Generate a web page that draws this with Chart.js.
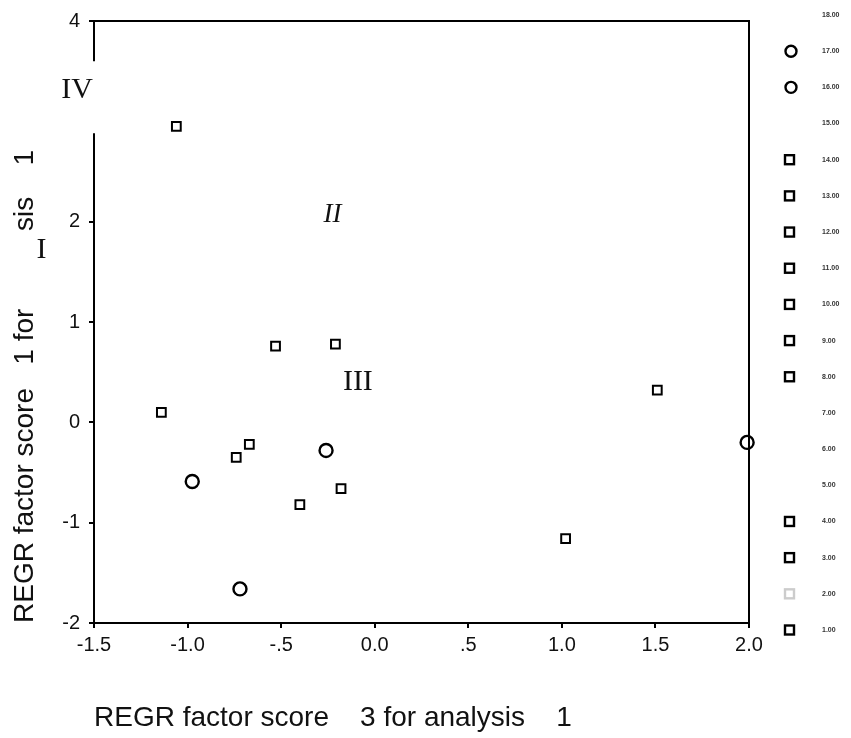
<!DOCTYPE html>
<html>
<head>
<meta charset="utf-8">
<script src="https://cdn.jsdelivr.net/npm/chart.js@4.4.1/dist/chart.umd.min.js"></script>
<style>
  html, body { margin: 0; padding: 0; background: #fff; }
  #wrap { width: 851px; height: 738px; }
</style>
</head>
<body>
<div id="wrap"><canvas id="chart" width="851" height="738"></canvas></div>
<script>
// cases drawn as squares
const squareX = [-1.06, -0.53, -0.21, -1.14, -0.67, -0.74, -0.40, -0.18, 1.02, 1.51];
const squareY = [2.95, 0.76, 0.78, 0.10, -0.22, -0.35, -0.82, -0.66, -1.16, 0.32];
// cases drawn as circles
const circleX = [-0.975, -0.72, -0.26, 1.99];
const circleY = [-0.59, -1.66, -0.28, -0.20];

const xTicks = [-1.5, -1.0, -0.5, 0.0, 0.5, 1.0, 1.5, 2.0];
const xTickLabels = ['-1.5', '-1.0', '-.5', '0.0', '.5', '1.0', '1.5', '2.0'];
const yTicks = [-2, -1, 0, 1, 2, 4];

const xTitle = 'REGR factor score    3 for analysis    1';
const yTitle = 'REGR factor score   1 for          sis    1';

// case legend, top to bottom (scanned labels, barely legible)
const legendLabels = ['18.00', '17.00', '16.00', '15.00', '14.00', '13.00', '12.00', '11.00', '10.00',
                      '9.00', '8.00', '7.00', '6.00', '5.00', '4.00', '3.00', '2.00', '1.00'];
const legendMarkers = ['', 'circle', 'circle', '', 'rect', 'rect', 'rect', 'rect', 'rect',
                       'rect', 'rect', '', '', '', 'rect', 'rect', 'faint', 'rect'];

// roman numeral notes written on the plot
const romanText = ['IV', 'II', 'III', 'I'];
const romanX = [-1.59, -0.225, -0.09, -1.78];
const romanY = [3.31, 2.07, 0.40, 1.72];

const FONT = '"Liberation Sans", Arial, sans-serif';
const SERIF = '"Liberation Serif", "Times New Roman", serif';

const toPoints = (xs, ys) => xs.map((x, i) => ({ x: x, y: ys[i] }));

const framePlugin = {
  id: 'frame',
  afterDraw(chart) {
    const ctx = chart.ctx;
    const a = chart.chartArea;
    const xs = chart.scales.x, ys = chart.scales.y;
    ctx.save();
    ctx.strokeStyle = '#000';
    ctx.lineWidth = 2;
    ctx.beginPath();
    // top and right edges
    ctx.moveTo(a.left, a.top);
    ctx.lineTo(a.right, a.top);
    ctx.lineTo(a.right, a.bottom);
    // left axis, broken where the scan was cleaned
    ctx.moveTo(a.left, a.top);
    ctx.lineTo(a.left, ys.getPixelForValue(3.6));
    ctx.moveTo(a.left, ys.getPixelForValue(2.88));
    ctx.lineTo(a.left, a.bottom);
    ctx.stroke();

    // roman numerals
    ctx.fillStyle = '#111';
    ctx.textAlign = 'center';
    ctx.textBaseline = 'middle';
    romanText.forEach((t, i) => {
      ctx.font = t === 'II' ? 'italic 27px ' + SERIF : '30px ' + SERIF;
      ctx.fillText(t, xs.getPixelForValue(romanX[i]), ys.getPixelForValue(romanY[i]));
    });

    // case legend on the right
    const top = 15, step = (630 - 15) / (legendLabels.length - 1);
    ctx.textAlign = 'left';
    ctx.font = 'bold 7px ' + FONT;
    legendLabels.forEach((lab, i) => {
      const y = top + i * step;
      const m = legendMarkers[i];
      ctx.lineWidth = 2.4;
      ctx.strokeStyle = m === 'faint' ? '#ccc' : '#000';
      if (m === 'circle') {
        ctx.beginPath();
        ctx.arc(791, y, 5.5, 0, Math.PI * 2);
        ctx.stroke();
      } else if (m === 'rect' || m === 'faint') {
        ctx.strokeRect(785, y - 4.5, 9, 9);
      }
      ctx.fillStyle = '#333';
      ctx.fillText(lab, 822, y);
    });
    ctx.restore();
  }
};

new Chart(document.getElementById('chart'), {
  type: 'scatter',
  data: {
    datasets: [
      {
        label: 'squares',
        data: toPoints(squareX, squareY),
        pointStyle: 'rect',
        pointRadius: 6.2,
        borderWidth: 2,
        borderColor: '#000',
        backgroundColor: 'rgba(0,0,0,0)',
        clip: false
      },
      {
        label: 'circles',
        data: toPoints(circleX, circleY),
        pointStyle: 'circle',
        pointRadius: 6.5,
        borderWidth: 2.4,
        borderColor: '#000',
        backgroundColor: 'rgba(0,0,0,0)',
        clip: false
      }
    ]
  },
  options: {
    responsive: false,
    animation: false,
    layout: { padding: { left: 0, top: 21, right: 102, bottom: 0 } },
    plugins: {
      legend: { display: false },
      tooltip: { enabled: false }
    },
    scales: {
      x: {
        type: 'linear',
        min: -1.5,
        max: 2.0,
        afterFit: s => { s.height = 115; },
        afterBuildTicks: s => { s.ticks = xTicks.map(v => ({ value: v })); },
        ticks: {
          autoSkip: false,
          maxRotation: 0,
          padding: 5,
          color: '#111',
          font: { family: FONT, size: 20 },
          callback: v => xTickLabels[xTicks.indexOf(v)]
        },
        grid: { display: true, drawOnChartArea: false, drawTicks: true, tickLength: 5, color: '#000', lineWidth: 2 },
        border: { display: true, color: '#000', width: 2 },
        title: {
          display: true,
          text: xTitle,
          align: 'start',
          color: '#111',
          font: { family: FONT, size: 28 },
          padding: { top: 0, bottom: 3 }
        }
      },
      y: {
        type: 'linear',
        min: -2,
        max: 4,
        afterFit: s => { s.width = 94; },
        afterBuildTicks: s => { s.ticks = yTicks.map(v => ({ value: v })); },
        ticks: {
          autoSkip: false,
          padding: 9,
          color: '#111',
          font: { family: FONT, size: 20 },
          callback: v => String(v)
        },
        grid: { display: true, drawOnChartArea: false, drawTicks: true, tickLength: 5, color: '#000', lineWidth: 2 },
        border: { display: false },
        title: {
          display: true,
          text: yTitle,
          align: 'start',
          color: '#111',
          font: { family: FONT, size: 28 },
          padding: { top: 8, bottom: 0 }
        }
      }
    }
  },
  plugins: [framePlugin]
});
</script>
</body>
</html>
